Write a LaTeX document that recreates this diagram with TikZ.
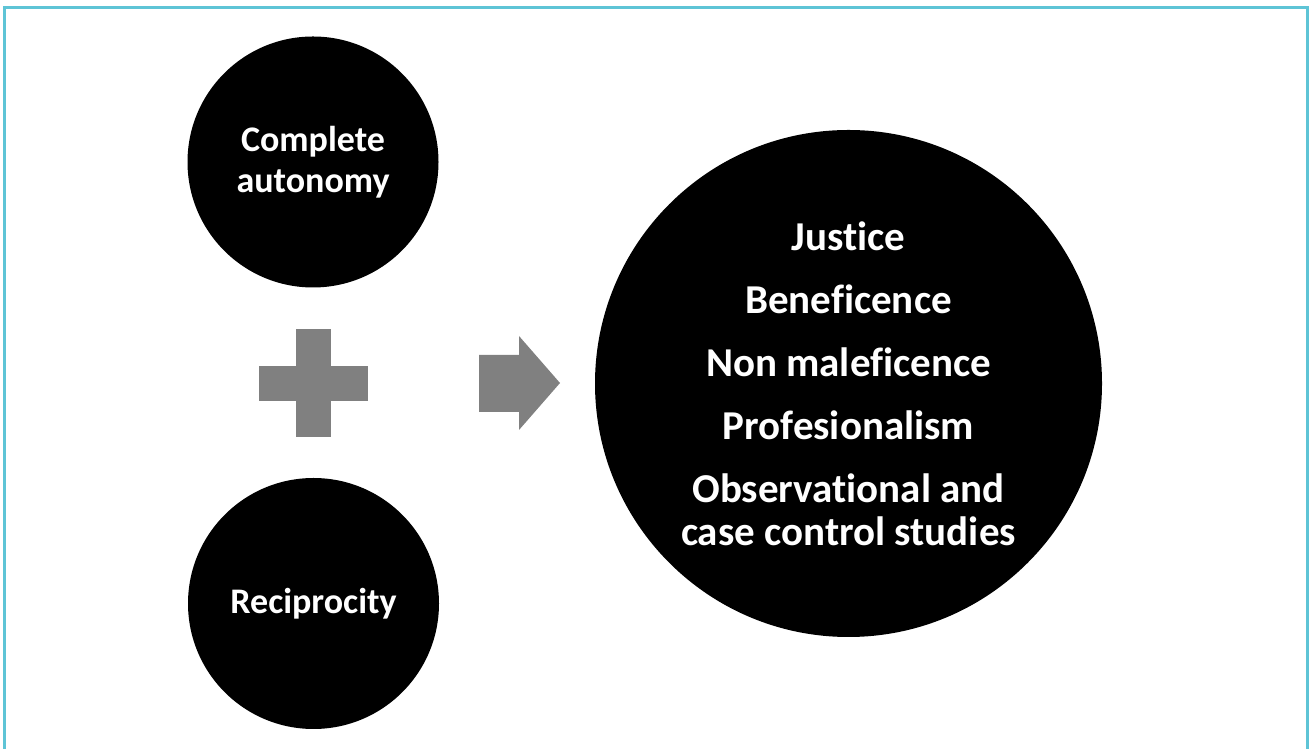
\documentclass[tikz,border=0pt]{standalone}
\usepackage{fontspec}
\setmainfont{Carlito}[RawFeature={-liga;-clig;-calt;-dlig}]
\definecolor{framec}{HTML}{5EC4D6}
\definecolor{shapegray}{HTML}{808080}
\newcommand{\nl}{\kern0pt }
\begin{document}
\begin{tikzpicture}[x=1pt,y=1pt,
  disc/.style={circle,fill=black,text=white,inner sep=0pt,align=center,font=\bfseries},
  smalldisc/.style={disc,minimum size=251pt,font=\bfseries\fontsize{36}{41}\selectfont},
  bigdisc/.style={disc,minimum size=507pt,font=\bfseries\fontsize{41}{43}\selectfont},
  sign/.style={fill=shapegray,draw=none}]
\useasboundingbox (0,0) rectangle (1312,749);
\begin{scope}
\clip (0,0) rectangle (1312,749);
\draw[framec,line width=3pt] (4,-20) -- (4,741) -- (1307,741) -- (1307,-20);
\end{scope}
\node[smalldisc] (auto) at (313,587) {Complete\\autonomy};
\node[smalldisc] (recip) at (313.5,145.5) {Reciprocity};
\node[bigdisc] (princ) at (848.5,365.5) {Justice\\[20pt]Benef\nl icence\\[20pt]Non malef\nl icence\\[20pt]Profesionalism\\[20pt]Observat\nl ional and\\case control studies};
% plus sign
\fill[sign] (259,348) rectangle (368,383);
\fill[sign] (296,312) rectangle (331,420);
% arrow
\fill[sign] (479,394) -- (519,394) -- (519,413) -- (560,366) -- (519,319) -- (519,337) -- (479,337) -- cycle;
\end{tikzpicture}
\end{document}
